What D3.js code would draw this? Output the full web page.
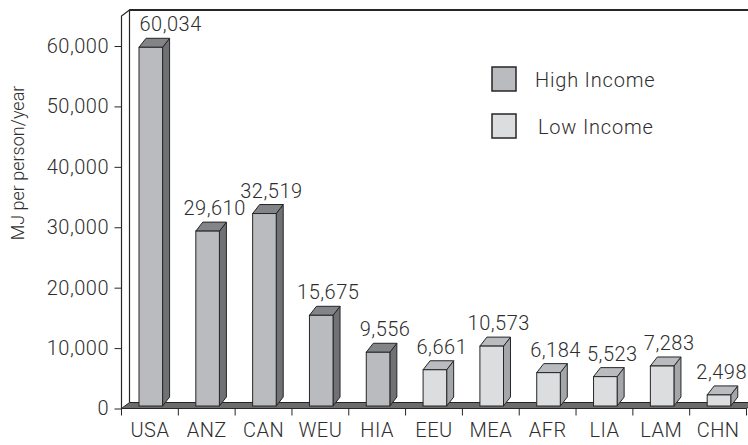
<!DOCTYPE html>
<html>
<head>
<meta charset="utf-8">
<script src="https://cdn.jsdelivr.net/npm/d3@7"></script>
<style>
  html, body { margin: 0; padding: 0; background: #fff; }
  svg { display: block; }
  text { font-family: Roboto, "Liberation Sans", Arial, sans-serif; font-weight: 300; fill: #2e2e2e; }
</style>
</head>
<body>
<svg id="chart" width="748" height="445"></svg>
<script>
// Per-capita energy use by region (MJ per person per year)
const categories = ["USA", "ANZ", "CAN", "WEU", "HIA", "EEU", "MEA", "AFR", "LIA", "LAM", "CHN"];
const energyUse = [60034, 29610, 32519, 15675, 9556, 6661, 10573, 6184, 5523, 7283, 2498];
const incomeGroup = ["High", "High", "High", "High", "High", "Low", "Low", "Low", "Low", "Low", "Low"];
const yTicks = [0, 10000, 20000, 30000, 40000, 50000, 60000];
const legendGroups = ["High", "Low"];
const legendLabels = ["High Income", "Low Income"];

const svg = d3.select("#chart");
const W = 748, H = 445;
const FONT = "Roboto, Liberation Sans, Arial, sans-serif";

// plot frame
const left = 121.5, right = 746.5, floorY = 408.5, topY = 10;
const wallDx = 8, wallDy = -6;      // depth of walls / floor
const barDx = 7, barDy = -9;        // depth of each bar

const x = d3.scaleBand().domain(categories).range([left, right]).padding(0);
const y = d3.scaleLinear().domain([0, 60000]).range([floorY, 46]);

const palette = {
  High: { front: "#b9bbbe", top: "#828487", side: "#6f7174" },
  Low:  { front: "#dcdddf", top: "#b9bbbe", side: "#a4a6a9" }
};
const ink = "#262626";

// walls
const walls = svg.append("g");
walls.append("path")
  .attr("d", `M${left},${floorY} L${left},${topY - wallDy} L${left + wallDx},${topY} L${W + 5},${topY} L${W + 5},${floorY + wallDy} L${left + wallDx},${floorY + wallDy} Z`)
  .attr("fill", "#fff").attr("stroke", "none");
walls.append("path")
  .attr("d", `M${left},${floorY} L${left},${topY - wallDy} L${left + wallDx},${topY} L${left + wallDx},${floorY + wallDy}`)
  .attr("fill", "none").attr("stroke", ink).attr("stroke-width", 1.2);
walls.append("line")
  .attr("x1", left + wallDx).attr("x2", W + 5).attr("y1", topY).attr("y2", topY)
  .attr("stroke", ink).attr("stroke-width", 2);

// floor
walls.append("path")
  .attr("d", `M${left},${floorY} L${left + wallDx},${floorY + wallDy} L${right + wallDx},${floorY + wallDy} L${right},${floorY} Z`)
  .attr("fill", "#6b6b6b").attr("stroke", ink).attr("stroke-width", 1);

// y axis
const yAxis = d3.axisLeft(y)
  .tickValues(yTicks)
  .tickFormat(d3.format(","))
  .tickSize(7)
  .tickPadding(5.5);
const gy = svg.append("g").attr("transform", `translate(${left},0)`).call(yAxis);
gy.select(".domain").remove();
gy.selectAll(".tick line").attr("stroke", ink).attr("stroke-width", 1);
gy.selectAll(".tick text")
  .style("font-family", FONT).style("font-weight", 300)
  .style("font-size", "20px").style("letter-spacing", "0.5px")
  .attr("fill", "#2e2e2e");

// x axis: labels centred on bands, tick marks at band boundaries
const xAxis = d3.axisBottom(x).tickSize(0).tickPadding(14);
const gx = svg.append("g").attr("transform", `translate(0,${floorY})`).call(xAxis);
gx.select(".domain").remove();
gx.selectAll(".tick text")
  .style("font-family", FONT).style("font-weight", 300)
  .style("font-size", "20px").style("letter-spacing", "0.5px")
  .attr("fill", "#2e2e2e");
const bounds = categories.map(c => x(c)).concat([right]);
svg.append("g").selectAll("line").data(bounds).join("line")
  .attr("x1", d => d).attr("x2", d => d)
  .attr("y1", floorY).attr("y2", floorY + 7)
  .attr("stroke", ink).attr("stroke-width", 1);

// bars
const bw = x.bandwidth();
const barBase = floorY - 2.5;
const rows = categories.map((c, i) => ({ c, v: energyUse[i], g: incomeGroup[i] }));
const bars = svg.append("g").selectAll("g").data(rows).join("g");
bars.each(function (d) {
  const g = d3.select(this);
  const x0 = x(d.c) + bw * 0.308, w = bw * 0.415;
  const yt = y(d.v) + 1.5;
  const col = palette[d.g];
  g.append("path")
    .attr("d", `M${x0 + w},${yt} L${x0 + w + barDx},${yt + barDy} L${x0 + w + barDx},${barBase + barDy} L${x0 + w},${barBase} Z`)
    .attr("fill", col.side).attr("stroke", ink).attr("stroke-width", 1).attr("stroke-linejoin", "round");
  g.append("path")
    .attr("d", `M${x0},${yt} L${x0 + barDx},${yt + barDy} L${x0 + w + barDx},${yt + barDy} L${x0 + w},${yt} Z`)
    .attr("fill", col.top).attr("stroke", ink).attr("stroke-width", 1).attr("stroke-linejoin", "round");
  g.append("rect")
    .attr("x", x0).attr("y", yt).attr("width", w).attr("height", barBase - yt)
    .attr("fill", col.front).attr("stroke", ink).attr("stroke-width", 1);

  // value label, kept inside the back wall
  const t = g.append("text")
    .attr("y", yt + barDy - 7)
    .attr("text-anchor", "middle")
    .style("font-size", "20px").style("letter-spacing", "0.5px")
    .text(d3.format(",")(d.v));
  const tw = t.node().getComputedTextLength();
  const cx = x0 + w / 2 + barDx;
  const lx = Math.min(Math.max(cx, left + wallDx + 10 + tw / 2), W - 1 - tw / 2);
  t.attr("x", lx);
});

// legend
const legend = svg.append("g").selectAll("g").data(legendGroups).join("g")
  .attr("transform", (d, i) => `translate(492,${67 + i * 47})`);
legend.append("rect")
  .attr("width", 24).attr("height", 24)
  .attr("fill", d => palette[d].front).attr("stroke", ink).attr("stroke-width", 1.5);
legend.append("text")
  .attr("x", (d, i) => 43 + i * 3).attr("y", 20)
  .style("font-size", "20px").style("letter-spacing", "0.8px")
  .text((d, i) => legendLabels[i]);

// y axis title
svg.append("text")
  .attr("transform", "translate(24,163) rotate(-90)")
  .attr("text-anchor", "middle")
  .style("font-size", "18px")
  .text("MJ per person/year");
</script>
</body>
</html>
